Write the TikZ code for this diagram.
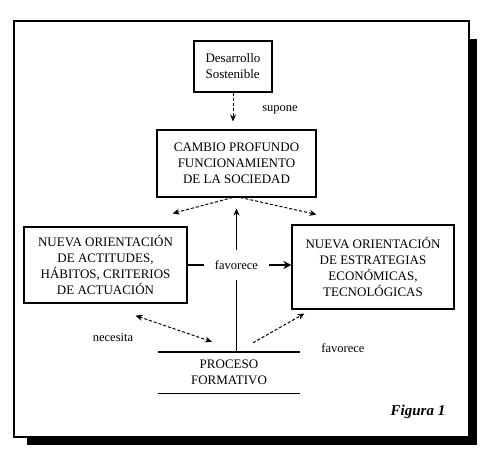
\documentclass[tikz,border=0pt]{standalone}
\usepackage{fontspec}
\setmainfont{Liberation Serif}
\usepackage{tikz}
\usetikzlibrary{arrows.meta, positioning, calc}
\definecolor{inkcol}{HTML}{000000}
\definecolor{papercol}{HTML}{FFFFFF}

\begin{document}
\begin{tikzpicture}[
  x=1pt, y=-1pt,
  every node/.style={font=\fontsize{13}{16}\selectfont, text=inkcol},
  caja/.style={rectangle, draw=inkcol, line width=1.1pt, align=center, inner sep=2pt},
  flecha/.style={draw=inkcol, line width=1pt, dash pattern=on 3pt off 2pt,
                 -{Stealth[length=7pt, width=6pt]}},
  solida/.style={draw=inkcol, line width=1.4pt, -{Stealth[length=7pt, width=6pt]}},
  lbl/.style={font=\fontsize{12.5}{15}\selectfont},
]
  \useasboundingbox (0,0) rectangle (487,461);
  \draw[inkcol, line width=2pt] (14,21) rectangle (469,437);
  \fill[inkcol] (469,39) rectangle (477,445);
  \fill[inkcol] (27,437) rectangle (477,445);

  \node[caja, minimum width=78pt, minimum height=51pt, align=left] (desarrollo) at (233,66.5)
    {Desarrollo\\Sostenible};
  \node[caja, minimum width=159pt, minimum height=67pt] (cambio) at (236.5,163.5)
    {CAMBIO PROFUNDO\\FUNCIONAMIENTO\\DE LA SOCIEDAD};
  \node[caja, minimum width=163pt, minimum height=76pt] (actitudes) at (105.5,265)
    {NUEVA ORIENTACIÓN\\DE ACTITUDES,\\HÁBITOS, CRITERIOS\\DE ACTUACIÓN};
  \node[caja, minimum width=162pt, minimum height=84pt] (estrategias) at (373,267)
    {NUEVA ORIENTACIÓN\\DE ESTRATEGIAS\\ECONÓMICAS,\\TECNOLÓGICAS};
  \node[minimum width=142pt, minimum height=41pt, align=center] (proceso) at (229,372.5)
    {PROCESO\\FORMATIVO};
  \draw[inkcol, line width=1.4pt] (proceso.north west) -- (proceso.north east)
                                  (proceso.south west) -- (proceso.south east);

  \draw[flecha, shorten >=8pt] (desarrollo.south) -- (desarrollo.south |- cambio.north);
  \node[lbl] (supone) at (280,110) {supone};

  \draw[flecha] ([xshift=-4pt]cambio.south) -- ([xshift=-15pt, yshift=13pt]actitudes.north east);
  \draw[flecha] ([xshift=4pt]cambio.south) -- ([xshift=25pt, yshift=10pt]estrategias.north west);

  \draw[solida, shorten >=11pt] (cambio.south |- proceso.north) -- (cambio.south);
  \draw[inkcol, line width=2.5pt, -{Stealth[length=8pt, width=8pt]}]
    (actitudes.east) -- (actitudes.east -| estrategias.west);
  \node[lbl, fill=papercol, inner xsep=11pt, inner ysep=11pt] (favorece) at (cambio.south |- actitudes.east) {favorece};

  \draw[flecha, {Stealth[length=7pt, width=6pt]}-{Stealth[length=7pt, width=6pt]}]
    ([xshift=30pt, yshift=-12pt]actitudes.south) -- ([xshift=-17pt, yshift=10pt]proceso.north);
  \node[lbl] (necesita) at (113,337) {necesita};

  \draw[flecha] ([xshift=24pt, yshift=9pt]proceso.north) -- ([xshift=13pt, yshift=-4pt]estrategias.south west);
  \node[lbl] (favorece2) at (343,348) {favorece};

  \node[font=\fontsize{15}{18}\selectfont\bfseries\itshape] (figura) at (418,412) {Figura 1};
\end{tikzpicture}
\end{document}
